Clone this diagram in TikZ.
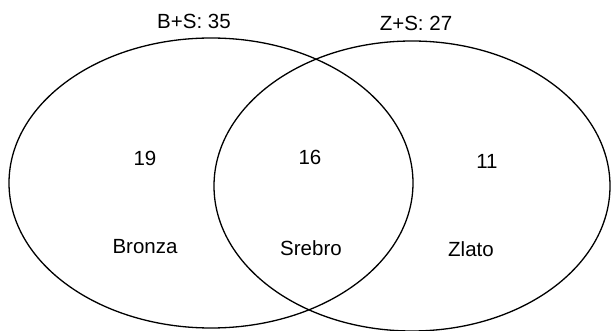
\documentclass[tikz,border=0pt]{standalone}
\usepackage{fontspec}
\setmainfont{Liberation Sans}
\begin{document}
\begin{tikzpicture}[x=1pt,y=-1pt,
  ring/.style={draw=black,line width=1.3pt},
  lbl/.style={inner sep=0pt,font=\fontsize{20.5}{22}\selectfont}]
\useasboundingbox (0,0) rectangle (611,331);
\draw[ring] (211,183) ellipse [x radius=202,y radius=145];
\draw[ring] (412,186) ellipse [x radius=198,y radius=145];
\node[lbl] (bs) at (194,21) {B+S: 35};
\node[lbl] (zs) at (416,23) {Z+S: 27};
\node[lbl] (n19) at (145,158) {19};
\node[lbl] (n16) at (310,157) {16};
\node[lbl] (n11) at (487,161) {11};
\node[lbl] (b) at (145,247) {Bronza};
\node[lbl] (s) at (311,248) {Srebro};
\node[lbl] (z) at (471,249) {Zlato};
\end{tikzpicture}
\end{document}
